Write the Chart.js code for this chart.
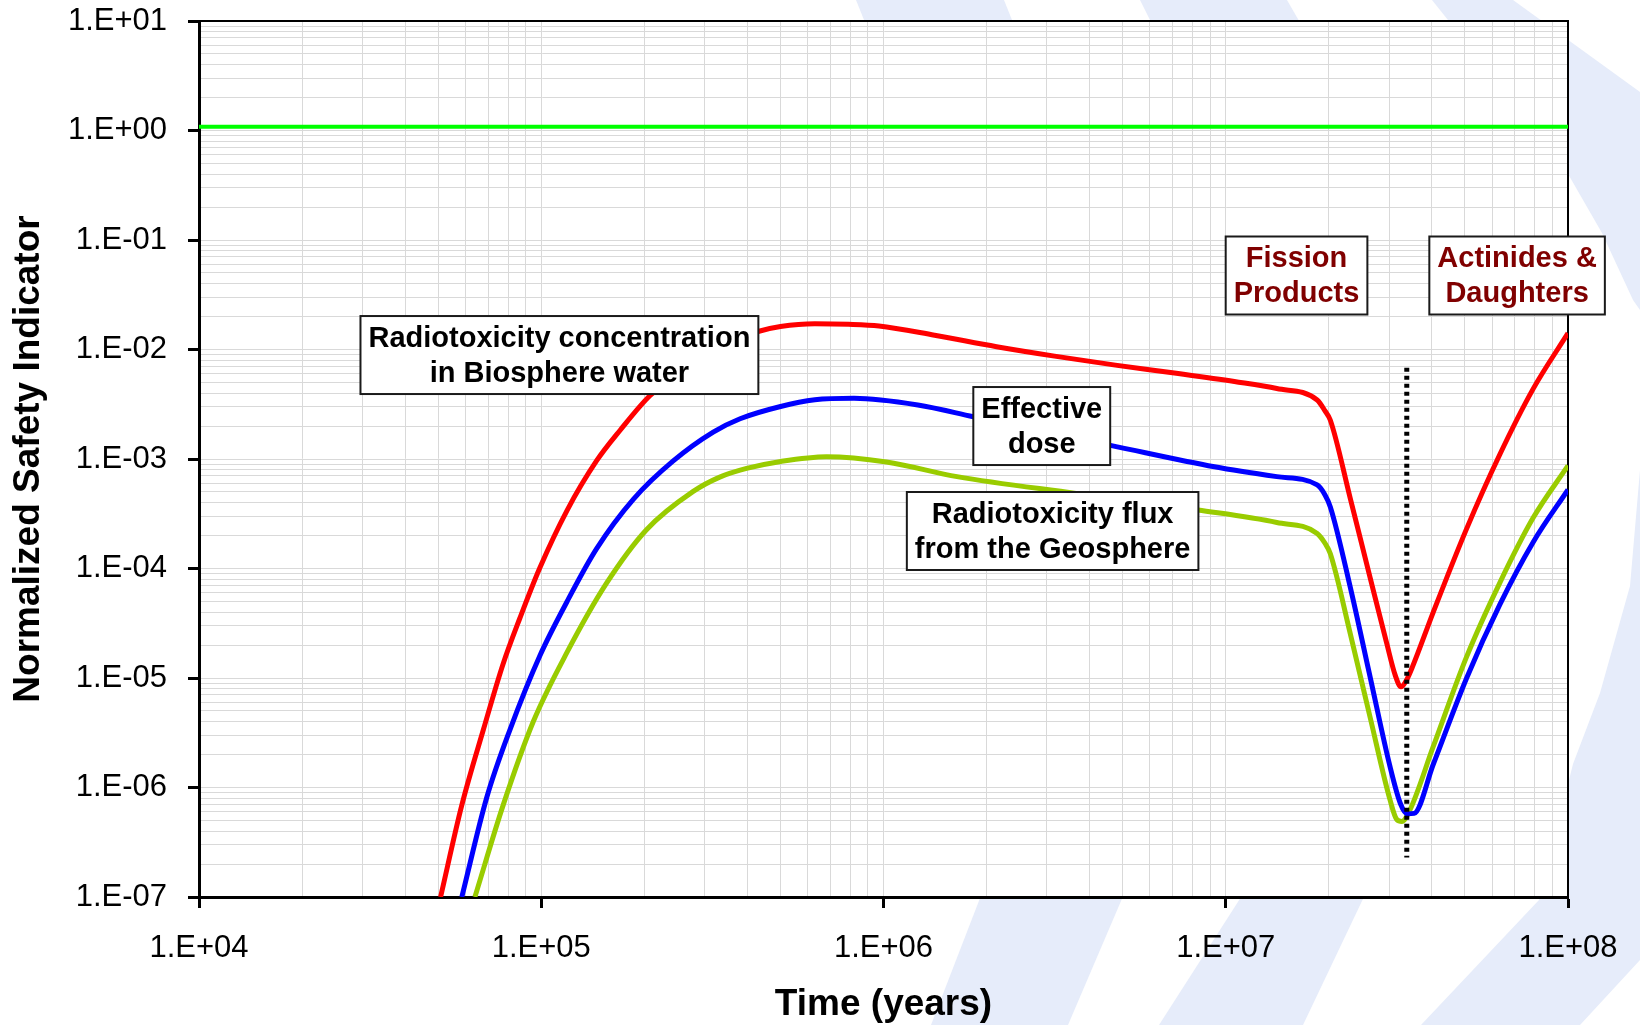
<!DOCTYPE html>
<html>
<head>
<meta charset="utf-8">
<script src="https://cdn.jsdelivr.net/npm/chart.js@4.4.1/dist/chart.umd.min.js"></script>
<style>
  html, body { margin: 0; padding: 0; background: #fff; }
</style>
</head>
<body>
<canvas id="safetyChart" width="1640" height="1025"></canvas>
<script>
// values (time in years, normalized indicator)
const concTime = [5.08e4, 5.86e4, 6.78e4, 7.74e4, 8.67e4, 9.9e4, 1.19e5, 1.45e5, 1.70e5, 2.08e5, 2.8e5, 3.5e5, 4.3e5, 5.0e5, 6.3e5, 7.9e5, 9.7e5, 1.41e6, 2.14e6, 3.16e6, 4.76e6, 7.08e6, 1.06e7, 1.41e7, 1.85e7, 1.95e7, 2.02e7, 2.31e7, 2.64e7, 2.95e7, 3.13e7, 3.25e7, 3.37e7, 3.51e7, 4.04e7, 5.05e7, 6.32e7, 7.91e7, 1e8];
const concValue = [1e-7, 6.9e-7, 3.4e-6, 1.35e-5, 3.55e-5, 1.01e-4, 3.4e-4, 9.6e-4, 1.83e-3, 3.8e-3, 7.6e-3, 1.15e-2, 1.46e-2, 1.62e-2, 1.72e-2, 1.70e-2, 1.64e-2, 1.35e-2, 1.06e-2, 8.7e-3, 7.2e-3, 6.1e-3, 5.1e-3, 4.4e-3, 3.46e-3, 2.75e-3, 2.27e-3, 4.4e-4, 8.3e-5, 2.1e-5, 1.05e-5, 8.3e-6, 9.5e-6, 1.26e-5, 4.0e-5, 2.29e-4, 1.10e-3, 4.37e-3, 1.41e-2];

const doseTime = [5.86e4, 6.93e4, 8.11e4, 9.9e4, 1.19e5, 1.45e5, 1.86e5, 2.43e5, 3.18e5, 3.81e5, 4.97e5, 6.3e5, 8.2e5, 1.26e6, 1.83e6, 2.88e6, 4.57e6, 9.27e6, 1.41e7, 1.85e7, 1.95e7, 2.02e7, 2.31e7, 2.64e7, 3.02e7, 3.24e7, 3.39e7, 3.55e7, 4.04e7, 5.05e7, 6.32e7, 7.91e7, 1e8];
const doseValue = [1e-7, 8.1e-7, 3.4e-6, 1.59e-5, 5.0e-5, 1.51e-4, 4.3e-4, 9.6e-4, 1.76e-3, 2.33e-3, 3.0e-3, 3.47e-3, 3.58e-3, 3.11e-3, 2.43e-3, 1.8e-3, 1.34e-3, 8.5e-4, 6.9e-4, 5.8e-4, 4.7e-4, 3.67e-4, 6.8e-5, 1.03e-5, 1.55e-6, 7.1e-7, 5.75e-7, 5.8e-7, 1.63e-6, 9.9e-6, 4.68e-5, 1.74e-4, 5.25e-4];

const fluxTime = [6.4e4, 7.74e4, 9.48e4, 1.19e5, 1.55e5, 2.03e5, 2.78e5, 3.31e5, 3.98e5, 5.01e5, 6.82e5, 1.02e6, 1.64e6, 3.65e6, 8.3e6, 1.41e7, 1.85e7, 1.95e7, 2.02e7, 2.31e7, 2.64e7, 3.02e7, 3.16e7, 3.27e7, 3.45e7, 4.04e7, 5.05e7, 6.32e7, 7.91e7, 1e8];
const fluxValue = [1e-7, 6.9e-7, 4.0e-6, 1.72e-5, 7.3e-5, 2.26e-4, 5.06e-4, 6.8e-4, 8.2e-4, 9.5e-4, 1.05e-3, 9.4e-4, 6.9e-4, 4.85e-4, 3.42e-4, 2.63e-4, 2.09e-4, 1.7e-4, 1.37e-4, 2.56e-5, 4.4e-6, 7.7e-7, 5.1e-7, 4.9e-7, 6.2e-7, 2.37e-6, 1.55e-5, 7.4e-5, 2.9e-4, 8.7e-4];

const limitTime = [1e4, 1e8];
const limitValue = [1.08, 1.08];

const splitTime = [3.38e7, 3.38e7];
const splitValue = [6.8e-3, 2.3e-7];

// text boxes, anchored at (time, value) of their centre
const noteText = [
  ['Radiotoxicity concentration', 'in Biosphere water'],
  ['Effective', 'dose'],
  ['Radiotoxicity flux', 'from the Geosphere'],
  ['Fission', 'Products'],
  ['Actinides &', 'Daughters']
];
const noteTime = [1.13e5, 2.9e6, 3.12e6, 1.61e7, 7.1e7];
const noteValue = [8.9e-3, 2.0e-3, 2.2e-4, 4.74e-2, 4.74e-2];
const noteColor = ['#000', '#000', '#000', '#800000', '#800000'];

const toPts = (xs, ys) => xs.map((x, i) => ({ x: x, y: ys[i] }));
const isDecade = v => Math.abs(Math.log10(v) - Math.round(Math.log10(v))) < 1e-9;
const sci = v => {
  const e = Math.round(Math.log10(v));
  return '1.E' + (e < 0 ? '-' : '+') + String(Math.abs(e)).padStart(2, '0');
};
// log grid: 1..9 x 10^n
function logTicks(scale) {
  const out = [];
  const lo = Math.round(Math.log10(scale.min)), hi = Math.round(Math.log10(scale.max));
  for (let e = lo; e < hi; e++) {
    for (let m = 1; m < 10; m++) out.push({ value: m * Math.pow(10, e), major: m === 1 });
  }
  out.push({ value: Math.pow(10, hi), major: true });
  scale.ticks = out;
}

const FONT = 'Liberation Sans, Arial, sans-serif';

// light blue swooshes behind the plot
const backdrop = {
  id: 'backdrop',
  beforeDraw(chart) {
    const c = chart.ctx, a = chart.chartArea;
    c.save();
    c.fillStyle = '#fff';
    c.fillRect(0, 0, chart.width, chart.height);
    c.fillStyle = '#e6ecfa';
    const shapes = [
      [[856, 0], [1004, 0], [1020, 40], [872, 40]],
      [[1140, 0], [1287, 0], [1310, 40], [1160, 40]],
      [[1432, 0], [1513, 0], [1640, 92], [1640, 310], [1633, 300], [1602, 233], [1560, 160]],
      [[1640, 470], [1640, 960], [1580, 1025], [1421, 1025], [1539, 900], [1573, 764], [1600, 693], [1630, 586]],
      [[987, 880], [1130, 880], [1068, 1025], [931, 1025]],
      [[1252, 880], [1372, 880], [1303, 1025], [1159, 1025]]
    ];
    shapes.forEach(s => {
      c.beginPath();
      c.moveTo(s[0][0], s[0][1]);
      s.slice(1).forEach(p => c.lineTo(p[0], p[1]));
      c.closePath();
      c.fill();
    });
    c.fillStyle = '#fff';
    c.fillRect(a.left, a.top, a.right - a.left, a.bottom - a.top);
    c.restore();
  },
  beforeDatasetsDraw(chart) {
    const c = chart.ctx, a = chart.chartArea;
    c.save();
    c.strokeStyle = '#000';
    c.lineWidth = 2;
    c.beginPath();
    c.moveTo(a.left, a.top);
    c.lineTo(a.right, a.top);
    c.lineTo(a.right, a.bottom);
    c.stroke();
    c.restore();
  }
};

const notes = {
  id: 'notes',
  afterDatasetsDraw(chart) {
    const c = chart.ctx, xs = chart.scales.x, ys = chart.scales.y;
    c.save();
    c.font = 'bold 29px ' + FONT;
    c.textAlign = 'center';
    c.textBaseline = 'middle';
    noteText.forEach((lines, i) => {
      const cx = xs.getPixelForValue(noteTime[i]);
      const cy = ys.getPixelForValue(noteValue[i]);
      const w = Math.max(...lines.map(l => c.measureText(l).width)) + 16;
      const lh = 35, h = lines.length * lh + 8;
      c.fillStyle = '#fff';
      c.fillRect(cx - w / 2, cy - h / 2, w, h);
      c.strokeStyle = '#1a1a1a';
      c.lineWidth = 2;
      c.strokeRect(cx - w / 2, cy - h / 2, w, h);
      c.fillStyle = noteColor[i];
      lines.forEach((l, k) => c.fillText(l, cx, cy + (k - (lines.length - 1) / 2) * lh + 1));
    });
    c.restore();
  }
};

const curve = (pts, color, order) => ({
  data: pts, borderColor: color, borderWidth: 5, pointRadius: 0,
  cubicInterpolationMode: 'monotone', fill: false, order: order
});

new Chart(document.getElementById('safetyChart'), {
  type: 'line',
  data: {
    datasets: [
      { data: toPts(splitTime, splitValue), borderColor: '#000', borderWidth: 5, borderDash: [4, 4], pointRadius: 0, tension: 0, order: 0 },
      curve(toPts(fluxTime, fluxValue), '#99cc00', 3),
      curve(toPts(doseTime, doseValue), '#0000ff', 2),
      curve(toPts(concTime, concValue), '#ff0000', 1),
      { data: toPts(limitTime, limitValue), borderColor: '#00ff00', borderWidth: 4, pointRadius: 0, tension: 0, order: 4 }
    ]
  },
  options: {
    responsive: false,
    animation: false,
    layout: { padding: { top: 21, right: 72, left: 0, bottom: 0 } },
    plugins: { legend: { display: false }, tooltip: { enabled: false } },
    scales: {
      x: {
        type: 'logarithmic', position: 'bottom', min: 1e4, max: 1e8,
        afterBuildTicks: logTicks,
        afterFit: s => { s.height = 128; s.paddingLeft = 0; s.paddingRight = 0; },
        ticks: {
          callback: v => isDecade(v) ? sci(v) : '',
          autoSkip: false, maxRotation: 0, padding: 22,
          color: '#000', font: { family: FONT, size: 31 }
        },
        grid: {
          color: '#d9d9d9', lineWidth: 1, tickLength: 11, tickWidth: 3,
          tickColor: ctx => isDecade(ctx.tick.value) ? '#000' : 'rgba(0,0,0,0)'
        },
        border: { color: '#000', width: 3 },
        title: {
          display: true, text: 'Time (years)', color: '#000',
          font: { family: FONT, size: 37, weight: 'bold', lineHeight: 1 },
          padding: { top: 0, bottom: 2 }
        }
      },
      y: {
        type: 'logarithmic', min: 1e-7, max: 10,
        afterBuildTicks: logTicks,
        afterFit: s => { s.width = 199; s.paddingTop = 0; s.paddingBottom = 0; },
        ticks: {
          callback: v => isDecade(v) ? sci(v) : '',
          autoSkip: false, padding: 21,
          color: '#000', font: { family: FONT, size: 31 }
        },
        grid: {
          color: '#d9d9d9', lineWidth: 1, tickLength: 11, tickWidth: 3,
          tickColor: ctx => isDecade(ctx.tick.value) ? '#000' : 'rgba(0,0,0,0)'
        },
        border: { color: '#000', width: 3 },
        title: {
          display: true, text: 'Normalized Safety Indicator', color: '#000',
          font: { family: FONT, size: 37, weight: 'bold', lineHeight: 1 },
          padding: { top: 10, bottom: 0 }
        }
      }
    }
  },
  plugins: [backdrop, notes]
});
</script>
</body>
</html>
